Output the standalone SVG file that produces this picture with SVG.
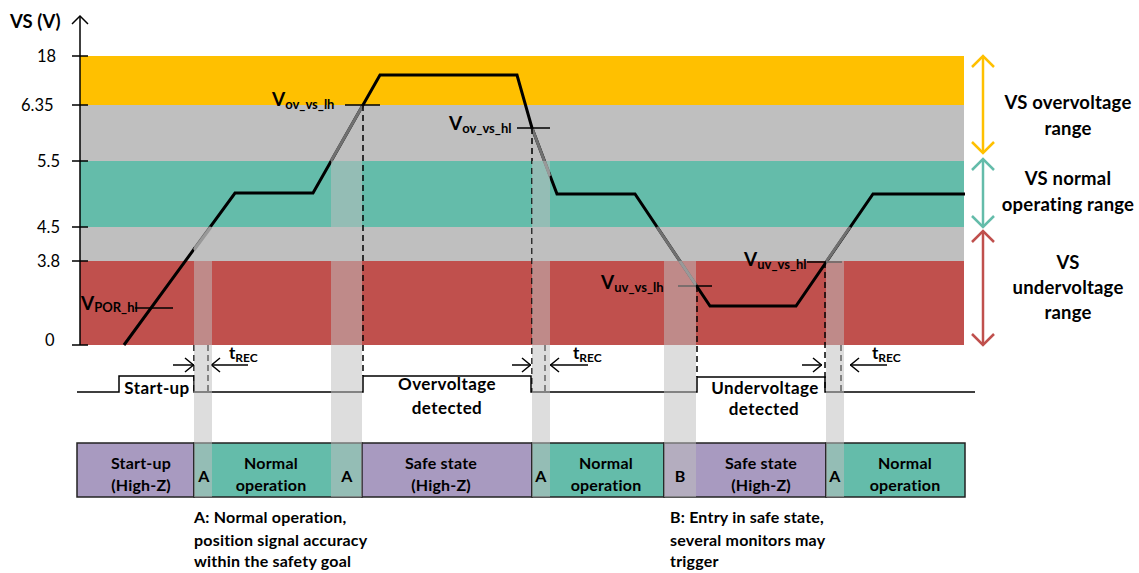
<svg xmlns="http://www.w3.org/2000/svg" width="1139" height="573" viewBox="0 0 1139 573">
<style>
.t{font-family:Lato,"Liberation Sans",sans-serif;fill:#000}
.b{font-weight:bold}
.ax{font-size:16.5px}
.cell{font-size:16px;font-weight:bold;text-anchor:middle;letter-spacing:0.2px}
.sig{font-size:17px;font-weight:bold;text-anchor:middle;letter-spacing:0.4px}
.rng{font-size:18.5px;font-weight:bold;text-anchor:middle;letter-spacing:0.2px}
.note{font-size:16px;font-weight:bold;letter-spacing:0.2px}
.vb{font-size:19px;font-weight:bold}
.vs{font-size:13px;font-weight:bold}
.ln{fill:none;stroke:#000;stroke-width:1.5}
.dash{fill:none;stroke:#000;stroke-width:1.5;stroke-dasharray:6 4}
.curve{fill:none;stroke:#000;stroke-width:3;stroke-linejoin:miter}
.gcurve{fill:none;stroke:#707070;stroke-width:3}
.ov{fill:#BFBFBF;fill-opacity:0.53}
.purple{fill:#A89AC0;stroke:#222;stroke-width:1.5}
.teal{fill:#64BCAA;stroke:#222;stroke-width:1.5}
</style>
<defs>
<marker id="oa" viewBox="0 0 10 16" refX="10" refY="8" markerWidth="10" markerHeight="16" markerUnits="userSpaceOnUse" orient="auto">
<path d="M1,1 L9.5,8 L1,15" fill="none" stroke="#000" stroke-width="1.5"/>
</marker>
</defs>
<rect width="1139" height="573" fill="#fff"/>

<g id="bands">
<rect x="80" y="56" width="884" height="49" fill="#FFC000"/>
<rect x="80" y="105" width="884" height="56" fill="#BFBFBF"/>
<rect x="80" y="161" width="884" height="66" fill="#64BCAA"/>
<rect x="80" y="227" width="884" height="34" fill="#BFBFBF"/>
<rect x="80" y="261" width="884" height="84" fill="#C0504D"/>
</g>

<g id="axis">
<line class="ln" x1="80" y1="16" x2="80" y2="345"/>
<path class="ln" d="M72,24 L80,16 L88,24"/>
<path class="ln" d="M72,56 H88 M72,105 H88 M72,161 H88 M72,227 H88 M72,261 H88 M72,345 H88"/>
<text class="t b" x="10" y="28" font-size="18.5">VS (V)</text>
<text class="t ax" x="37" y="62">18</text>
<text class="t ax" x="21" y="111">6.35</text>
<text class="t ax" x="37" y="167">5.5</text>
<text class="t ax" x="37" y="233">4.5</text>
<text class="t ax" x="37" y="267">3.8</text>
<text class="t ax" x="45" y="346">0</text>
</g>

<g id="state-bar">
<rect class="purple" x="77" y="443" width="117" height="54"/>
<rect class="teal" x="194" y="443" width="168" height="54"/>
<rect class="purple" x="362" y="443" width="170" height="54"/>
<rect class="teal" x="532" y="443" width="132" height="54"/>
<rect class="purple" x="664" y="443" width="162" height="54"/>
<rect class="teal" x="826" y="443" width="139" height="54"/>
</g>

<g id="curve">
<polyline class="curve" points="124,345 235,193 313,193 380,75 517,75 532,128 557,194 635,194 710,306 796,306 873,194 965,194"/>
<path class="gcurve" d="M194,250 L211,227 M331,161 L363,105 M532,128 L550,176 M657,227 L696,285 M826,262 L850,227"/>
</g>

<g id="thresholds">
<path class="ln" d="M135,308 H173"/>
<path class="ln" stroke="#707070" d="M345,105 H362"/>
<path class="ln" d="M362,105 H380"/>
<path class="ln" d="M517,128 H550"/>
<path class="ln" stroke="#707070" d="M678,286 H696"/>
<path class="ln" d="M696,286 H712"/>
<path class="ln" d="M807,262 H825"/>
<path class="ln" stroke="#707070" d="M825,262 H842"/>
<text class="t" x="81" y="310"><tspan class="vb">V</tspan><tspan class="vs" dy="2">POR_hl</tspan></text>
<text class="t" x="272" y="106"><tspan class="vb">V</tspan><tspan class="vs" dy="3">ov_vs_lh</tspan></text>
<text class="t" x="449" y="130"><tspan class="vb">V</tspan><tspan class="vs" dy="3">ov_vs_hl</tspan></text>
<text class="t" x="601" y="289"><tspan class="vb">V</tspan><tspan class="vs" dy="3">uv_vs_lh</tspan></text>
<text class="t" x="744" y="266"><tspan class="vb">V</tspan><tspan class="vs" dy="3">uv_vs_hl</tspan></text>
</g>

<g id="connectors">
<path class="dash" d="M194,345 V392 M208,345 V392 M363,105 V376 M532,128 V392 M545,345 V392 M697,286 V377 M825,262 V392 M841,345 V392"/>
<polyline class="ln" points="77,392 119,392 119,376 194,376 194,392 363,392 363,376 531,376 531,392 697,392 697,377 825,377 825,392 975,392"/>
<line class="ln" x1="173" y1="365" x2="194" y2="365" marker-end="url(#oa)"/>
<line class="ln" x1="248" y1="365" x2="211" y2="365" marker-end="url(#oa)"/>
<line class="ln" x1="512" y1="365" x2="531" y2="365" marker-end="url(#oa)"/>
<line class="ln" x1="588" y1="365" x2="550" y2="365" marker-end="url(#oa)"/>
<line class="ln" x1="802" y1="365" x2="822" y2="365" marker-end="url(#oa)"/>
<line class="ln" x1="887" y1="365" x2="850" y2="365" marker-end="url(#oa)"/>
</g>

<g id="trec-labels">
<text class="t b" x="229" y="359" font-size="17">t<tspan font-size="12" dy="3">REC</tspan></text>
<text class="t b" x="573" y="359" font-size="17">t<tspan font-size="12" dy="3">REC</tspan></text>
<text class="t b" x="872" y="359" font-size="17">t<tspan font-size="12" dy="3">REC</tspan></text>
</g>

<g id="signal-labels">
<text class="t sig" x="157" y="394">Start-up</text>
<text class="t sig" x="447" y="390">Overvoltage</text>
<text class="t sig" x="447" y="414">detected</text>
<text class="t sig" x="765" y="394">Undervoltage</text>
<text class="t sig" x="764" y="415">detected</text>
</g>

<g id="overlays">
<rect class="ov" x="194" y="227" width="18" height="270"/>
<rect class="ov" x="331" y="161" width="31" height="336"/>
<rect class="ov" x="532" y="161" width="18" height="336"/>
<rect class="ov" x="664" y="261" width="32" height="236"/>
<rect class="ov" x="826" y="261" width="18" height="236"/>
</g>

<g id="cell-labels">
<text class="t cell" x="141" y="469">Start-up</text>
<text class="t cell" x="141" y="491">(High-Z)</text>
<text class="t cell" x="271" y="469">Normal</text>
<text class="t cell" x="271" y="491">operation</text>
<text class="t cell" x="441" y="469">Safe state</text>
<text class="t cell" x="441" y="491">(High-Z)</text>
<text class="t cell" x="606" y="469">Normal</text>
<text class="t cell" x="606" y="491">operation</text>
<text class="t cell" x="761" y="469">Safe state</text>
<text class="t cell" x="761" y="491">(High-Z)</text>
<text class="t cell" x="905" y="469">Normal</text>
<text class="t cell" x="905" y="491">operation</text>
<text class="t cell" x="204" y="482">A</text>
<text class="t cell" x="347" y="482">A</text>
<text class="t cell" x="541" y="482">A</text>
<text class="t cell" x="680" y="482">B</text>
<text class="t cell" x="835" y="482">A</text>
</g>

<g id="range-arrows">
<g stroke="#FFC000" stroke-width="2.5" fill="none">
<line x1="983" y1="57" x2="983" y2="152"/>
<path d="M972,67 L983,56 L994,67 M972,142 L983,153 L994,142"/>
</g>
<g stroke="#64BCAA" stroke-width="2.5" fill="none">
<line x1="983" y1="160" x2="983" y2="226"/>
<path d="M972,170 L983,159 L994,170 M972,216 L983,227 L994,216"/>
</g>
<g stroke="#C0504D" stroke-width="2.5" fill="none">
<line x1="983" y1="232" x2="983" y2="344"/>
<path d="M972,242 L983,231 L994,242 M972,334 L983,345 L994,334"/>
</g>
<text class="t rng" x="1068" y="109">VS overvoltage</text>
<text class="t rng" x="1068" y="135">range</text>
<text class="t rng" x="1068" y="185">VS normal</text>
<text class="t rng" x="1068" y="211">operating range</text>
<text class="t rng" x="1068" y="269">VS</text>
<text class="t rng" x="1068" y="294">undervoltage</text>
<text class="t rng" x="1068" y="319">range</text>
</g>

<g id="notes">
<text class="t note" x="194" y="523">A: Normal operation,</text>
<text class="t note" x="194" y="546">position signal accuracy</text>
<text class="t note" x="194" y="567">within the safety goal</text>
<text class="t note" x="670" y="523">B: Entry in safe state,</text>
<text class="t note" x="670" y="546">several monitors may</text>
<text class="t note" x="670" y="567">trigger</text>
</g>
</svg>
